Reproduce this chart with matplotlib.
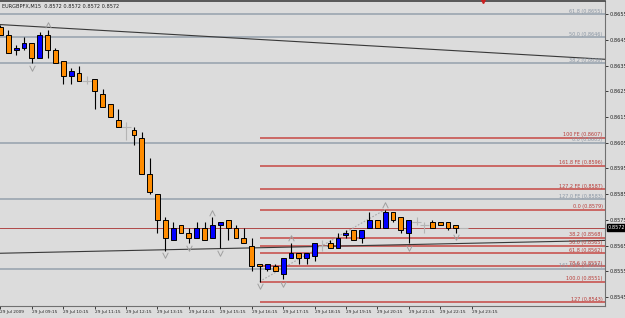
import matplotlib
matplotlib.use("Agg")
import matplotlib.pyplot as plt
from matplotlib import transforms
import numpy as np

# EURGBP M15, 29 Jul 2009, bars from 08:15
opens  = [0.8650, 0.8647, 0.8641, 0.8642, 0.8644, 0.8638, 0.8647, 0.8641, 0.8637, 0.8631,
          0.8632, 0.8629, 0.8630, 0.8624, 0.8620, 0.8614, 0.8611, 0.8610, 0.8607, 0.8593,
          0.8585, 0.8575, 0.8567, 0.8573, 0.8570, 0.8568, 0.8572, 0.8568, 0.8573, 0.8575,
          0.8572, 0.8568, 0.8565, 0.8558, 0.8556, 0.8557, 0.8554, 0.8560, 0.8562, 0.8560,
          0.8561, 0.8565, 0.8566, 0.8564, 0.8569, 0.8571, 0.8568, 0.8572, 0.8575, 0.8572,
          0.8578, 0.8576, 0.8570, 0.8574, 0.8573, 0.8574, 0.8574, 0.8574, 0.8573, 0.8572]
highs  = [0.8651, 0.8649, 0.8643, 0.8646, 0.8644, 0.8648, 0.8649, 0.8642, 0.8637, 0.8634,
          0.8635, 0.8631, 0.8630, 0.8626, 0.8620, 0.8618, 0.8613, 0.8611, 0.8609, 0.8599,
          0.8585, 0.8576, 0.8574, 0.8573, 0.8572, 0.8574, 0.8574, 0.8576, 0.8574, 0.8575,
          0.8573, 0.8572, 0.8568, 0.8558, 0.8558, 0.8558, 0.8560, 0.8566, 0.8562, 0.8562,
          0.8566, 0.8567, 0.8567, 0.8570, 0.8571, 0.8571, 0.8571, 0.8578, 0.8575, 0.8579,
          0.8578, 0.8576, 0.8575, 0.8576, 0.8574, 0.8575, 0.8574, 0.8574, 0.8573, 0.8572]
lows   = [0.8647, 0.8640, 0.8639, 0.8641, 0.8636, 0.8638, 0.8638, 0.8636, 0.8628, 0.8628,
          0.8629, 0.8628, 0.8618, 0.8619, 0.8615, 0.8611, 0.8606, 0.8604, 0.8593, 0.8585,
          0.8570, 0.8563, 0.8567, 0.8570, 0.8566, 0.8568, 0.8567, 0.8568, 0.8564, 0.8567,
          0.8568, 0.8566, 0.8555, 0.8551, 0.8555, 0.8555, 0.8552, 0.8560, 0.8558, 0.8558,
          0.8559, 0.8563, 0.8564, 0.8564, 0.8568, 0.8567, 0.8566, 0.8572, 0.8572, 0.8572,
          0.8574, 0.8570, 0.8566, 0.8573, 0.8570, 0.8572, 0.8573, 0.8571, 0.8570, 0.8572]
closes = [0.8647, 0.8640, 0.8642, 0.8644, 0.8638, 0.8647, 0.8641, 0.8636, 0.8631, 0.8633,
          0.8629, 0.8629, 0.8625, 0.8619, 0.8615, 0.8611, 0.8611, 0.8608, 0.8593, 0.8586,
          0.8575, 0.8568, 0.8572, 0.8570, 0.8568, 0.8572, 0.8567, 0.8573, 0.8574, 0.8572,
          0.8568, 0.8566, 0.8557, 0.8557, 0.8558, 0.8555, 0.8560, 0.8562, 0.8560, 0.8562,
          0.8566, 0.8565, 0.8564, 0.8568, 0.8570, 0.8567, 0.8571, 0.8575, 0.8572, 0.8578,
          0.8575, 0.8571, 0.8575, 0.8574, 0.8573, 0.8572, 0.8573, 0.8572, 0.8572, 0.8572]

time_labels = ["29 Jul 2009", "29 Jul 09:15", "29 Jul 10:15", "29 Jul 11:15", "29 Jul 12:15",
               "29 Jul 13:15", "29 Jul 14:15", "29 Jul 15:15", "29 Jul 16:15", "29 Jul 17:15",
               "29 Jul 18:15", "29 Jul 19:15", "29 Jul 20:15", "29 Jul 21:15", "29 Jul 22:15",
               "29 Jul 23:15"]
price_ticks = [0.8545, 0.8555, 0.8565, 0.8575, 0.8585, 0.8595, 0.8605,
               0.8615, 0.8625, 0.8635, 0.8645, 0.8655]

gray_levels = [0.8655, 0.8646, 0.8636, 0.8605, 0.8583, 0.8556]
gray_names = ["61.8", "50.0", "38.2", "0.0", "127.0 FE", "161.8 FE"]
red_levels = [0.8607, 0.8596, 0.8587, 0.8579, 0.8568, 0.8565, 0.8562, 0.8557, 0.8551, 0.8543]
red_names = ["100 FE", "161.8 FE", "127.2 FE", "0.0", "38.2", "50.0", "61.8", "78.6", "100.0", "127"]
red_start = 33

up_fractals = [6, 27, 37, 49]
down_fractals = [4, 21, 24, 28, 33, 36, 52, 58]

trend_x = [0, 77]
trend_upper = [0.8651, 0.86375]
trend_lower = [0.8562, 0.8567]
current_price = 0.8572

BG = "#dcdcdc"
ORANGE = "#ff8c00"
BLUE = "#0000ff"
RED = "#c85450"
GRAY = "#a4adb6"

fig = plt.figure(figsize=(6.25, 3.18), dpi=100, facecolor=BG)
ax = fig.add_axes([0.0, 0.038, 0.968, 0.959], facecolor=BG)

n = len(opens)
x = np.arange(n)
o = np.array(opens); h = np.array(highs); l = np.array(lows); c = np.array(closes)

# fib levels
for lev in gray_levels:
    ax.axhline(lev, color=GRAY, lw=1.4, zorder=1)
for lev in red_levels:
    ax.hlines(lev, red_start, 80, color=RED, lw=1.2, zorder=1)
ax.axhline(current_price, color="#b04848", lw=0.7, zorder=1)

# trendlines
ax.plot(trend_x, trend_upper, color="#383838", lw=0.8, zorder=2)
ax.plot(trend_x, trend_lower, color="#383838", lw=0.8, zorder=2)
ax.plot([red_start, 49], [lows[red_start], highs[49]], color="#a8a8a8", lw=0.8,
        ls=(0, (1.5, 1.5)), zorder=2)

# candles
doji = o == c
up = c > o
ax.vlines(x[~doji], l[~doji], h[~doji], color="black", lw=0.8, zorder=3)
body_lo = np.minimum(o, c)
body_h = np.abs(c - o)
ax.bar(x[~doji], body_h[~doji], bottom=body_lo[~doji], width=0.62,
       color=np.where(up[~doji], BLUE, ORANGE), edgecolor="black", linewidth=0.7, zorder=4)
ax.vlines(x[doji], l[doji], h[doji], color="#b4b4b4", lw=0.8, zorder=3)
ax.hlines(c[doji], x[doji] - 0.6, x[doji] + 0.6, color="#b4b4b4", lw=0.8, zorder=3)

# fractals
chev_dn = [(-1, 1), (0, -1), (1, 1)]
chev_up = [(-1, -1), (0, 1), (1, -1)]
ax.plot(x[up_fractals], h[up_fractals] + 0.00018, ls="none", marker=chev_up, ms=4,
        mfc="none", mec="#a0a0a0", mew=0.7, zorder=3)
ax.plot(x[down_fractals], l[down_fractals] - 0.00018, ls="none", marker=chev_dn, ms=4,
        mfc="none", mec="#a0a0a0", mew=0.7, zorder=3)

ax.set_xlim(-0.06, 77.0)
ax.set_ylim(0.85415, 0.86602)

# level labels
tr = transforms.blended_transform_factory(ax.transAxes, ax.transData)
for lev, name in zip(gray_levels, gray_names):
    ax.text(0.996, lev + 0.00002, f"{name} ({lev:.4f})", transform=tr, ha="right",
            va="bottom", fontsize=3.5, color="#8a96a4", zorder=5)
for lev, name in zip(red_levels, red_names):
    ax.text(0.996, lev + 0.00002, f"{name} ({lev:.4f})", transform=tr, ha="right",
            va="bottom", fontsize=3.5, color="#b83c38", zorder=5)

# axes
ax.yaxis.tick_right()
ax.set_yticks(price_ticks)
ax.set_yticklabels([f"{p:.4f}" for p in price_ticks], fontsize=3.6)
ax.set_xticks(np.arange(0, 4 * len(time_labels), 4))
ax.set_xticklabels(time_labels, fontsize=3.1, ha="left")
ax.tick_params(length=2, width=0.6, pad=1, colors="#202020")
ax.spines["left"].set_visible(False)
for side in ["right", "bottom"]:
    ax.spines[side].set_color("#707070")
    ax.spines[side].set_linewidth(0.8)
ax.spines["top"].set_color("#404040")
ax.spines["top"].set_linewidth(1.2)

ax.text(1.004, current_price, f"{current_price:.4f}", transform=tr, ha="left", va="center",
        fontsize=3.6, color="white", bbox=dict(boxstyle="square,pad=0.15", fc="black", ec="black"),
        zorder=6, clip_on=False)

ax.text(0.003, 0.992, "EURGBPFX,M15  0.8572 0.8572 0.8572 0.8572", transform=ax.transAxes,
        fontsize=3.6, va="top", ha="left", color="#202020")
ax.plot([0.798], [1.0], transform=ax.transAxes, marker="v", ms=3, color="#cc2020",
        clip_on=False, zorder=6)

fig.savefig("out.png", dpi=100, facecolor=BG)
